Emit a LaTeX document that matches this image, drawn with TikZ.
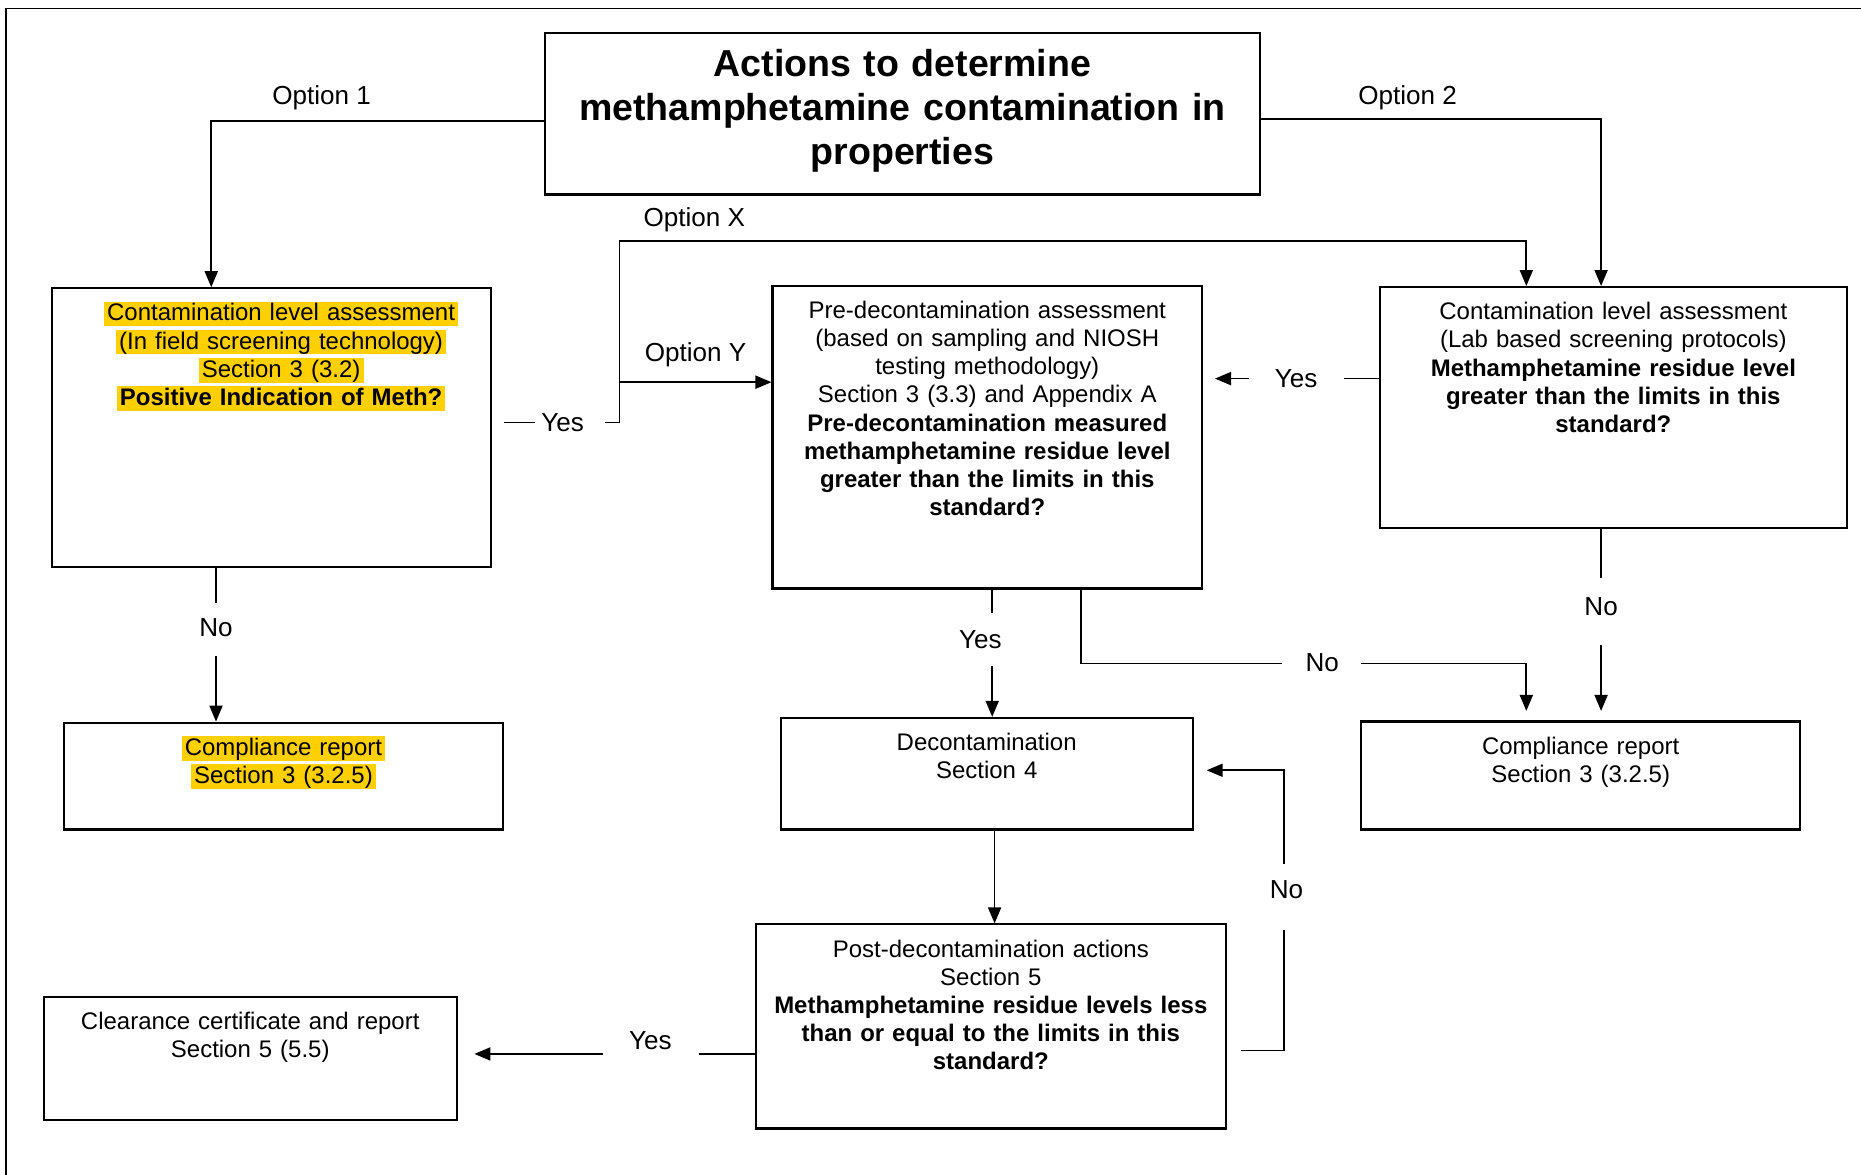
\documentclass[tikz,border=0pt]{standalone}
\usepackage{fontspec}
\setmainfont{Liberation Sans}
\usetikzlibrary{arrows.meta}
\definecolor{hly}{RGB}{255,208,0}
\newcommand\hlt[1]{{\fboxsep=0pt\colorbox{hly}{\rule[-2.6pt]{0pt}{11.8pt}\kern1.5pt#1\kern1.5pt}}}
\begin{document}
\begin{tikzpicture}[x=0.02cm, y=-0.02cm,
  box/.style={draw, line width=1pt, anchor=north west, align=center, inner xsep=0.1cm, inner ysep=0pt, text height=0.55cm, font=\fontsize{11.5}{13.5}\selectfont},
  lbl/.style={inner sep=0pt, font=\fontsize{12.5}{15}\selectfont},
  line width=0.8pt, >={Triangle[length=0.27cm, width=0.22cm]}]
\useasboundingbox (0,0) rectangle (1568,990);
\draw[line width=0.6pt] (5,990) -- (5,7) -- (1568,7);

\node[box, text width=11.86cm, text height=0.74cm, text depth=1.98cm, font=\fontsize{18}{21}\selectfont\bfseries] (title) at (458,27) {Actions to determine\\methamphetamine contamination in\\properties};
\node[box, text width=7.2cm, text depth=4.15cm] (field) at (43,242) {\hspace*{0.32cm}\hlt{Contamination level assessment}\\\hspace*{0.32cm}\hlt{(In field screening technology)}\\\hspace*{0.32cm}\hlt{Section 3 (3.2)}\\\hspace*{0.32cm}\hlt{\bfseries Positive Indication of Meth?}};
\node[box, text width=7.04cm, text depth=4.55cm] (pre) at (650,240) {Pre-decontamination assessment\\(based on sampling and NIOSH\\testing methodology)\\Section 3 (3.3) and Appendix A\\\bfseries Pre-decontamination measured\\methamphetamine residue level\\greater than the limits in this\\standard?};
\node[box, text width=7.66cm, text depth=3.51cm] (lab) at (1162,241) {Contamination level assessment\\(Lab based screening protocols)\\\bfseries Methamphetamine residue level\\greater than the limits in this\\standard?};
\node[box, text width=7.2cm, text depth=1.25cm] (compa) at (53,608) {\hlt{Compliance report}\\\hlt{Section 3 (3.2.5)}};
\node[box, text width=6.74cm, text depth=1.33cm] (decon) at (657,604) {Decontamination\\Section 4};
\node[box, text width=7.2cm, text depth=1.27cm] (compb) at (1146,607) {Compliance report\\Section 3 (3.2.5)};
\node[box, text width=7.72cm, text depth=2.89cm] (post) at (636,778) {Post-decontamination actions\\Section 5\\\bfseries Methamphetamine residue levels less\\than or equal to the limits in this\\standard?};
\node[box, text width=6.76cm, text depth=1.53cm] (clear) at (36,839) {Clearance certificate and report\\Section 5 (5.5)};

\node[lbl] (opta) at (271,82) {Option 1};
\node[lbl] (optb) at (1186,82) {Option 2};
\node[lbl] (optx) at (585,185) {Option X};
\node[lbl] (opty) at (586,299) {Option Y};
\node[lbl] (yesa) at (474,356) {Yes};
\node[lbl] (yesb) at (1092,319) {Yes};
\node[lbl] (yesc) at (826,539) {Yes};
\node[lbl] (yesd) at (548,877) {Yes};
\node[lbl] (noa) at (182,529) {No};
\node[lbl] (nob) at (1349,511) {No};
\node[lbl] (noc) at (1114,558) {No};
\node[lbl] (nod) at (1084,750) {No};

\coordinate (ca) at (178,102);
\coordinate (cb) at (1349,100);
\coordinate (ya) at (522,356);
\coordinate (xa) at (522,203);
\coordinate (xb) at (1286,203);
\coordinate (yb) at (522,322);
\coordinate (pd) at (836,539);
\coordinate (pn) at (911,559);
\coordinate (pm) at (1286,559);
\coordinate (da) at (838,738);
\coordinate (na) at (1082,885);
\coordinate (nb) at (1082,649);
\coordinate (py) at (548,888);

\draw[->] (title.west |- ca) -- (ca) -- (ca |- field.north);
\draw[->] (title.east |- cb) -- (cb) -- (cb |- lab.north);
\draw[shorten <=0.2cm, shorten >=0.1cm] (field.east |- ya) -- (yesa.west);
\draw[->, shorten <=0.34cm] (yesa.east) -- (ya) -- (xa) -- (xb) -- (xb |- lab.north);
\draw[->] (yb) -- (yb -| pre.west);
\draw[shorten >=0.44cm] (lab.west |- yesb) -- (yesb.east);
\draw[->, shorten <=0.42cm, shorten >=0.2cm] (yesb.west) -- (yesb -| pre.east);
\draw[shorten >=0.28cm] (pre.south -| pd) -- (pd |- yesc.north);
\draw[->, shorten <=0.28cm] (pd |- yesc.south) -- (pd |- decon.north);
\draw[shorten >=0.38cm] (pre.south -| pn) -- (pn) -- (noc.west |- pn);
\draw[->, shorten <=0.36cm, shorten >=0.16cm] (noc.east |- pm) -- (pm) -- (pm |- compb.north);
\draw[shorten >=0.32cm] (lab.south -| nob) -- (nob.north);
\draw[->, shorten <=0.48cm, shorten >=0.16cm] (nob.south) -- (nob |- compb.north);
\draw[shorten >=0.26cm] (field.south -| noa) -- (noa.north);
\draw[->, shorten <=0.3cm] (noa.south) -- (noa |- compa.north);
\draw[->] (decon.south -| da) -- (da |- post.north);
\draw[shorten <=0.24cm, shorten >=0.5cm] (post.east |- na) -- (na) -- (na |- nod.south);
\draw[->, shorten <=0.28cm, shorten >=0.22cm] (na |- nod.north) -- (nb) -- (nb -| decon.east);
\draw[shorten >=0.44cm] (post.west |- py) -- (py -| yesd.east);
\draw[->, shorten <=0.42cm, shorten >=0.28cm] (py -| yesd.west) -- (py -| clear.east);
\end{tikzpicture}
\end{document}
